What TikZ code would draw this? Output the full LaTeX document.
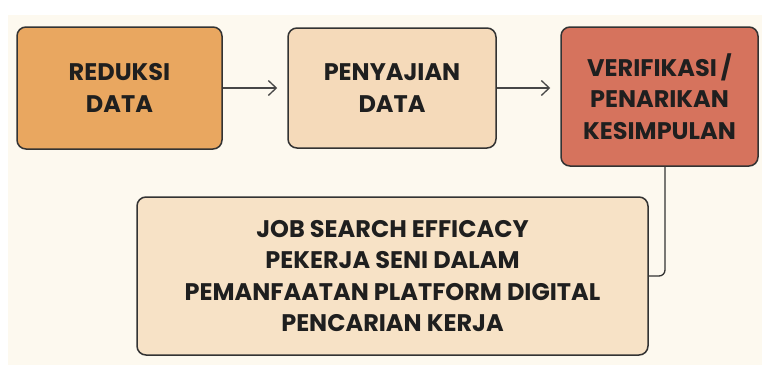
\documentclass[tikz,border=0pt]{standalone}
\usepackage{fontspec}
\setmainfont{Poppins}
\usetikzlibrary{arrows.meta}

\definecolor{bgcream}{HTML}{FDF9EF}
\definecolor{reduksi}{HTML}{E9A760}
\definecolor{sajian}{HTML}{F5DABA}
\definecolor{simpul}{HTML}{D6735D}
\definecolor{hasil}{HTML}{F7E2C6}
\definecolor{garis}{HTML}{333333}

\begin{document}
\begin{tikzpicture}[x=1pt, y=-1pt,
    box/.style={draw=garis, line width=1.5pt, rounded corners=9pt, align=center,
      font=\fontsize{24}{31.5}\selectfont\bfseries, text=black!88},
    flow/.style={draw=garis!90, line width=1.3pt, -{Straight Barb[length=8pt,width=15pt]}, shorten >=10pt}]
    \useasboundingbox (0,0) rectangle (762,365);
    \fill[white] (0,0) rectangle (762,365);
    \fill[bgcream] (8,15) rectangle (762,365);

    \node[box, fill=reduksi, minimum width=205pt, minimum height=122pt] (reduksi) at (119.5,88) {REDUKSI\\DATA};
    \node[box, fill=sajian, minimum width=208pt, minimum height=120pt] (penyajian) at (392,88) {PENYAJIAN\\DATA};
    \node[box, fill=simpul, minimum width=197pt, minimum height=139pt] (verifikasi) at (659.5,96.5) {VERIFIKASI\,/\\PENARIKAN\\KESIMPULAN};
    \node[box, fill=hasil, minimum width=511pt, minimum height=158pt] (hasil) at (392.5,276)
        {JOB SEARCH EFFICACY\\PEKERJA SENI DALAM\\PEMANFAATAN PLATFORM DIGITAL\\PENCARIAN KERJA};

    \draw[flow] (reduksi) -- (penyajian);
    \draw[flow] (penyajian.east) -- (verifikasi.west |- penyajian.east);
    \draw[garis, line width=1.3pt, rounded corners=6pt] ([xshift=5.5pt]verifikasi.south) |- (hasil.east);
\end{tikzpicture}
\end{document}
